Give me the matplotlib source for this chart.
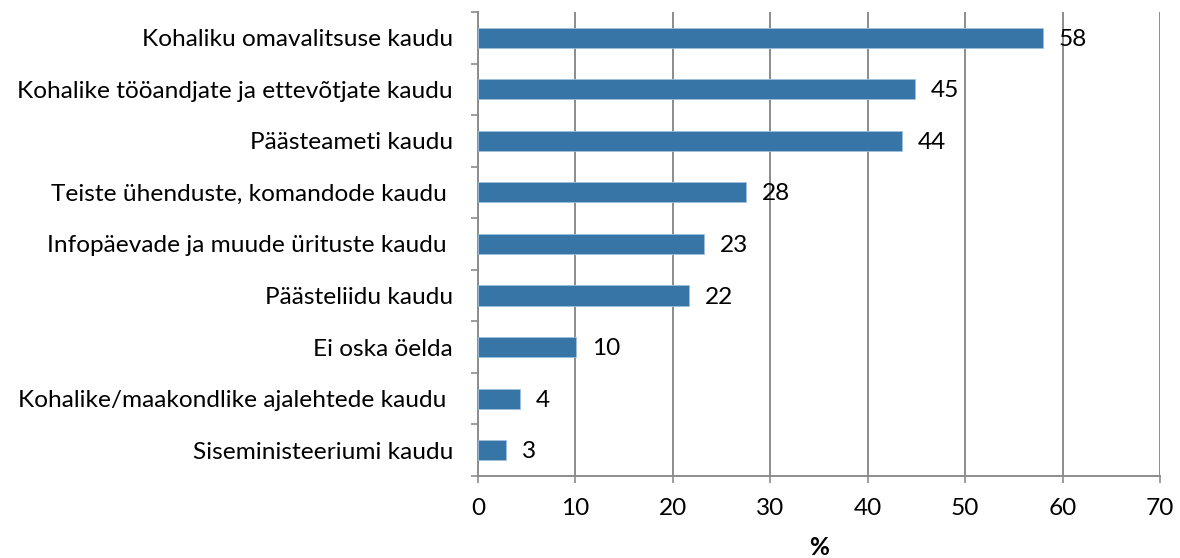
import numpy as np
import matplotlib.pyplot as plt

plt.rcParams['font.family'] = ['Lato', 'DejaVu Sans']

categories = [
    "Kohaliku omavalitsuse kaudu",
    "Kohalike tööandjate ja ettevõtjate kaudu",
    "Päästeameti kaudu",
    "Teiste ühenduste, komandode kaudu ",
    "Infopäevade ja muude ürituste kaudu ",
    "Päästeliidu kaudu",
    "Ei oska öelda",
    "Kohalike/maakondlike ajalehtede kaudu ",
    "Siseministeeriumi kaudu",
]
values = [58.0, 44.9, 43.5, 27.5, 23.2, 21.7, 10.1, 4.3, 2.9]
value_labels = ["58", "45", "44", "28", "23", "22", "10", "4", "3"]

bar_color = "#3775a7"
grid_color = "#8c8c8c"
fs = 17.6

fig = plt.figure(figsize=(11.8, 5.58), dpi=100)
ax = fig.add_axes([0.405, 0.147, 0.578, 0.8315])

y = np.arange(len(categories))
ax.barh(y, values, height=0.39, color=bar_color, edgecolor="#9fc0dc", linewidth=0.6, zorder=3)

for yi, v, lab in zip(y, values, value_labels):
    ax.text(v + 1.6, yi + 0.03, lab, va="center", ha="left", fontsize=fs, color="black", zorder=4)

ax.set_xlim(0, 70)
ax.set_ylim(len(categories) - 0.5, -0.5)
ax.set_xticks(np.arange(0, 71, 10))
ax.set_yticks(y)
ax.set_yticklabels(categories, fontsize=fs)
ax.set_yticks(np.arange(-0.5, len(categories), 1), minor=True)
ax.tick_params(axis="y", which="major", length=0, pad=18)
ax.tick_params(axis="y", which="minor", length=5, color=grid_color, width=1.2)
ax.tick_params(axis="x", length=5, color=grid_color, width=1.2, labelsize=fs, pad=11)

ax.xaxis.grid(True, color=grid_color, linewidth=1.4, zorder=0)
ax.set_axisbelow(True)
for s in ["top", "right"]:
    ax.spines[s].set_visible(False)
for s in ["left", "bottom"]:
    ax.spines[s].set_color(grid_color)
    ax.spines[s].set_linewidth(1.4)

ax.set_xlabel("%", fontsize=fs, fontweight="bold", labelpad=12)

fig.savefig("out.png", dpi=100)
